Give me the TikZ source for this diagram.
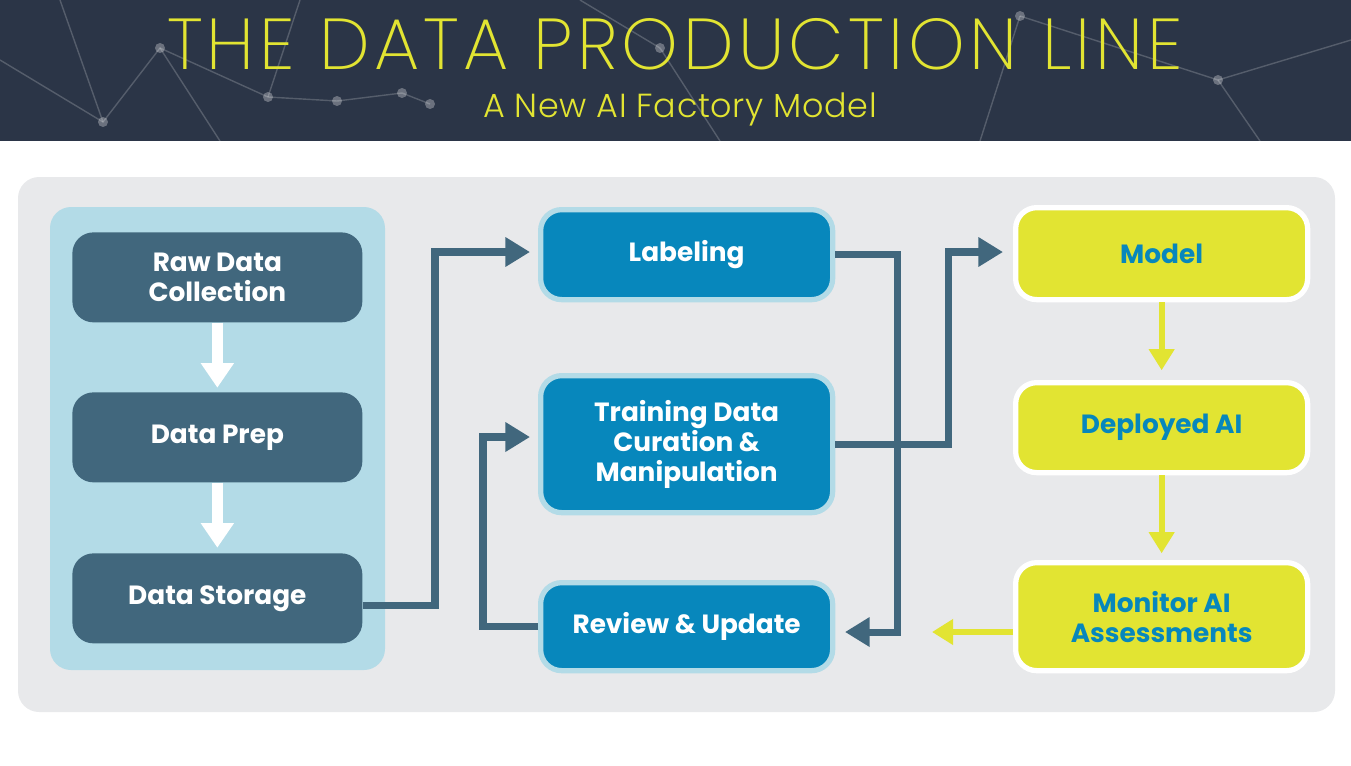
\documentclass[tikz,border=0pt]{standalone}
\usepackage{fontspec}
\setmainfont{Poppins}
\newfontfamily\thinfont[LetterSpace=6]{Poppins ExtraLight}
\newfontfamily\subfont[LetterSpace=2]{Poppins Light}
\usetikzlibrary{arrows.meta}
\definecolor{navy}{HTML}{2B3547}
\definecolor{panel}{HTML}{E8E9EB}
\definecolor{paleblue}{HTML}{B3DBE7}
\definecolor{slate}{HTML}{41677D}
\definecolor{ocean}{HTML}{0787BC}
\definecolor{lime}{HTML}{E2E432}
\begin{document}
\begin{tikzpicture}[x=0.02cm,y=-0.02cm,
  prep/.style = {fill=slate, rounded corners=12pt, text=white, font=\bfseries\fontsize{15}{17}\selectfont, align=center, minimum width=290*0.02cm, minimum height=90*0.02cm, anchor=north west},
  stage/.style = {fill=ocean, draw=paleblue, line width=3pt, rounded corners=12pt, text=white, font=\bfseries\fontsize{15}{17}\selectfont, align=center, minimum width=292*0.02cm, anchor=north west},
  ai/.style = {fill=lime, draw=white, line width=3pt, rounded corners=12pt, text=ocean, font=\bfseries\fontsize{15}{17}\selectfont, align=center, minimum width=292*0.02cm, anchor=north west},
  flow/.style = {draw=slate, line width=4pt, -{Triangle[length=14pt,width=16pt]}},
  whiteflow/.style = {draw=white, line width=6pt, -{Triangle[length=14pt,width=18pt]}},
  limeflow/.style = {draw=lime, line width=3.5pt, -{Triangle[length=12pt,width=14pt]}}]
\useasboundingbox (0,0) rectangle (1351,765);
% header
\fill[navy] (0,0) rectangle (1351,141);
\begin{scope}[draw=white, opacity=0.2, line width=0.8pt]
  \draw (0,60) -- (103,122) -- (160,48) -- (268,97) -- (337,101) -- (402,93) -- (430,104);
  \draw (103,122) -- (60,0); \draw (268,97) -- (300,0); \draw (160,48) -- (220,141);
  \draw (1020,16) -- (1218,80) -- (1351,40); \draw (1020,16) -- (980,141); \draw (1218,80) -- (1260,141);
  \draw (660,48) -- (580,0); \draw (660,48) -- (720,141);
\end{scope}
\foreach \p in {(103,122),(160,48),(268,97),(337,101),(402,93),(430,104),(1020,16),(1218,80),(660,48)}
  \fill[white, opacity=0.3] \p circle (5);
\node[text=lime, font=\thinfont\fontsize{41}{44}\selectfont] (title) at (675,44) {THE DATA PRODUCTION LINE};
\node[text=lime, font=\subfont\fontsize{19}{22}\selectfont] (subtitle) at (680,109) {A New AI Factory Model};
% panels
\fill[panel, rounded corners=12pt] (18,177) rectangle (1335,712);
\fill[paleblue, rounded corners=12pt] (50,207) rectangle (385,670);
% data preparation
\node[prep] (raw) at (72,232) {Raw Data\\Collection};
\node[prep] (dprep) at (72,392) {Data Prep};
\node[prep] (store) at (72,553) {Data Storage};
\draw[whiteflow] (raw.south) -- ++(0,65);
\draw[whiteflow] (dprep.south) -- ++(0,65);
% training stages
\node[stage, minimum height=90*0.02cm] (label) at (538,207) {Labeling};
\node[stage, minimum height=137*0.02cm] (curate) at (538,373) {Training Data\\Curation \&\\Manipulation};
\node[stage, minimum height=88*0.02cm] (review) at (538,580) {Review \& Update};
% AI stages
\node[ai, minimum height=92*0.02cm] (model) at (1013,205) {Model};
\node[ai, minimum height=90*0.02cm] (deploy) at (1013,380) {Deployed AI};
\node[ai, minimum height=108*0.02cm] (monitor) at (1013,560) {Monitor AI\\Assessments};
% connectors
\draw[flow] (store.east |- 0,605) -| (435,252) -- (530,252);
\draw[flow] (label.east) -| (897,632) -- (845,632);
\draw[flow] (curate.east) -| (948,252) -- (1003,252);
\draw[flow] (review.west) -| (483,437) -- (530,437);
\draw[limeflow] (model.south) -- ++(0,68);
\draw[limeflow] (deploy.south) -- ++(0,78);
\draw[limeflow] (monitor.west |- 0,632) -- (932,632);
\end{tikzpicture}
\end{document}
